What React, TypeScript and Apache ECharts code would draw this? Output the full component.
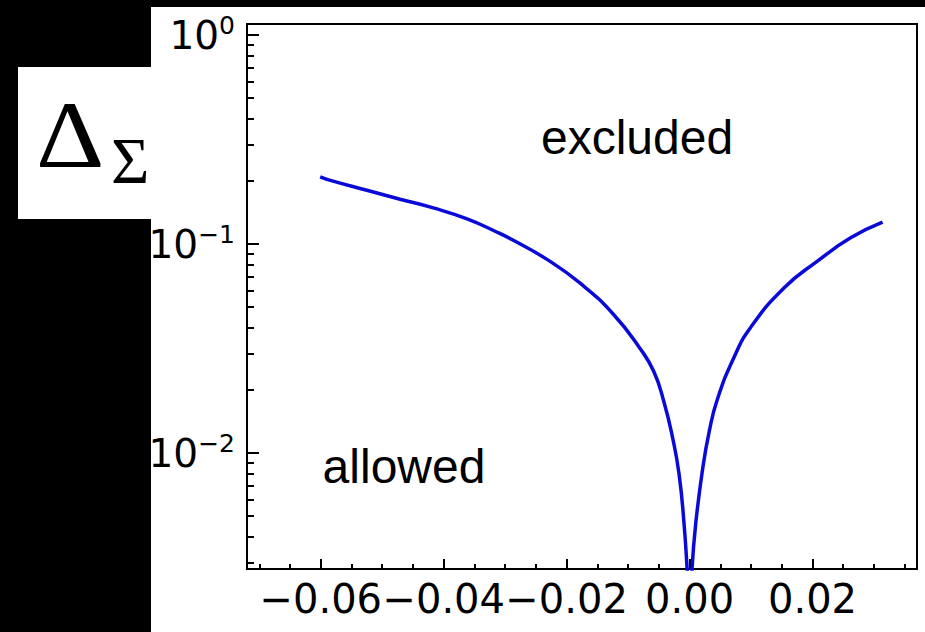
import React, { useEffect, useRef } from "react";
import * as echarts from "echarts";

// Curve: left branch, the dip (below the visible range), right branch
const leftX = [-0.0601, -0.058, -0.0525, -0.0471, -0.0417, -0.0362, -0.0313, -0.0286, -0.0232, -0.0178, -0.0124, -0.008, -0.0058, -0.0042, -0.0028, -0.0017, -0.0009, -0.0004];
const leftY = [0.21, 0.2, 0.181, 0.164, 0.149, 0.132, 0.114, 0.104, 0.0845, 0.065, 0.0462, 0.0315, 0.0245, 0.0177, 0.012, 0.0079, 0.0046, 0.0028];
const dipX = [0.0001];
const dipY = [0.0016];
const rightX = [0.0004, 0.001, 0.0021, 0.0032, 0.0045, 0.0072, 0.0099, 0.0154, 0.0208, 0.0262, 0.0314];
const rightY = [0.0028, 0.0046, 0.0083, 0.0127, 0.018, 0.0286, 0.0398, 0.0618, 0.0829, 0.1072, 0.1274];

// Axes
const xMin = -0.072;
const xMax = 0.037;
const yMin = 0.00279;
const yMax = 1.13;
const xMajorTicks = [-0.06, -0.04, -0.02, 0, 0.02];
const xMinorTicks = [-0.07, -0.065, -0.055, -0.05, -0.045, -0.035, -0.03, -0.025, -0.015, -0.01, -0.005, 0.005, 0.01, 0.015, 0.025, 0.03, 0.035];
const yMajorTicks = [0.01, 0.1, 1];
const yMinorTicks = [0.003, 0.004, 0.005, 0.006, 0.007, 0.008, 0.009, 0.02, 0.03, 0.04, 0.05, 0.06, 0.07, 0.08, 0.09, 0.2, 0.3, 0.4, 0.5, 0.6, 0.7, 0.8, 0.9];

const labelExcluded = "excluded";
const labelAllowed = "allowed";

const fmtX = (v: number) => {
  if (Math.abs(v) < 1e-9) return "0.00";
  const s = v.toFixed(2);
  return s.replace("-", "\u2212");
};

const fmtY = (v: number) => {
  const l = Math.log10(v);
  const e = Math.round(l);
  if (Math.abs(l - e) > 1e-6) return "";
  const sup = e < 0 ? "\u2212" + String(-e) : String(e);
  return `{b|10}{s|${sup}}`;
};

export default function App() {
  const ref = useRef<HTMLDivElement>(null);
  useEffect(() => {
    const chart = echarts.init(ref.current!, null, { renderer: "svg" });
    const xs = [...leftX, ...dipX, ...rightX];
    const ys = [...leftY, ...dipY, ...rightY];
    const lineData = xs.map((x, i) => [x, ys[i]]);
    const axisFont = { fontFamily: "DejaVu Sans", color: "#000" };
    chart.setOption({
      animation: false,
      backgroundColor: "#000",
      grid: {
        left: 247,
        top: 24,
        width: 670,
        height: 545,
        show: true,
        borderColor: "#000",
        borderWidth: 2,
        backgroundColor: "transparent",
      },
      graphic: [
        { type: "rect", z: -30, shape: { x: 18, y: 67, width: 140, height: 152 }, style: { fill: "#fff" } },
        {
          type: "text", z: -29, x: 36, y: 135,
          style: { text: "\u0394", font: "95px 'Liberation Serif'", fill: "#000", align: "left", verticalAlign: "middle" },
          scaleX: 1.12,
        },
        {
          type: "text", z: -29, x: 111, y: 160,
          style: { text: "\u03a3", font: "66px 'Liberation Serif'", fill: "#000", align: "left", verticalAlign: "middle" },
        },
        { type: "rect", z: -20, shape: { x: 151, y: 7, width: 774, height: 625 }, style: { fill: "#fff" } },
        {
          type: "text", z: 20, x: 637, y: 137,
          style: { text: labelExcluded, font: "48px 'Liberation Sans'", fill: "#000", align: "center", verticalAlign: "middle" },
        },
        {
          type: "text", z: 20, x: 404, y: 466,
          style: { text: labelAllowed, font: "48px 'Liberation Sans'", fill: "#000", align: "center", verticalAlign: "middle" },
        },
      ],
      xAxis: [
        {
          type: "value",
          min: xMin,
          max: xMax,
          position: "bottom",
          axisLine: { show: true, onZero: false, lineStyle: { color: "#000", width: 2 } },
          axisTick: { show: true, inside: true, length: 10, lineStyle: { color: "#000", width: 2 }, customValues: xMajorTicks },
          axisLabel: { ...axisFont, fontSize: 40, lineHeight: 40, margin: 10, formatter: fmtX, customValues: xMajorTicks },
          splitLine: { show: false },
        },
        {
          type: "value",
          min: xMin,
          max: xMax,
          position: "bottom",
          axisLine: { show: false, onZero: false },
          axisTick: { show: true, inside: true, length: 5, lineStyle: { color: "#000", width: 2 }, customValues: xMinorTicks },
          axisLabel: { show: false },
          splitLine: { show: false },
        },
      ],
      yAxis: [
        {
          type: "log",
          logBase: 10,
          min: yMin,
          max: yMax,
          position: "left",
          axisLine: { show: true, onZero: false, lineStyle: { color: "#000", width: 2 } },
          axisTick: { show: true, inside: true, length: 12, lineStyle: { color: "#000", width: 2 }, customValues: yMajorTicks },
          axisLabel: {
            margin: 12,
            formatter: fmtY,
            customValues: yMajorTicks,
            rich: {
              b: { ...axisFont, fontSize: 39, lineHeight: 44 },
              s: { ...axisFont, fontSize: 25, lineHeight: 27, verticalAlign: "top" },
            },
          },
          splitLine: { show: false },
        },
        {
          type: "log",
          logBase: 10,
          min: yMin,
          max: yMax,
          position: "left",
          axisLine: { show: false, onZero: false },
          axisTick: { show: true, inside: true, length: 7, lineStyle: { color: "#000", width: 2 }, customValues: yMinorTicks },
          axisLabel: { show: false },
          splitLine: { show: false },
        },
      ],
      series: [
        {
          type: "line",
          xAxisIndex: 0,
          yAxisIndex: 0,
          data: lineData,
          showSymbol: false,
          smooth: 0.5,
          clip: true,
          lineStyle: { color: "#0a0ad8", width: 3.5 },
          z: 5,
        },
      ],
    });
    return () => chart.dispose();
  }, []);
  return <div ref={ref} style={{ position: "fixed", left: 0, top: 0, width: 925, height: 632 }} />;
}
